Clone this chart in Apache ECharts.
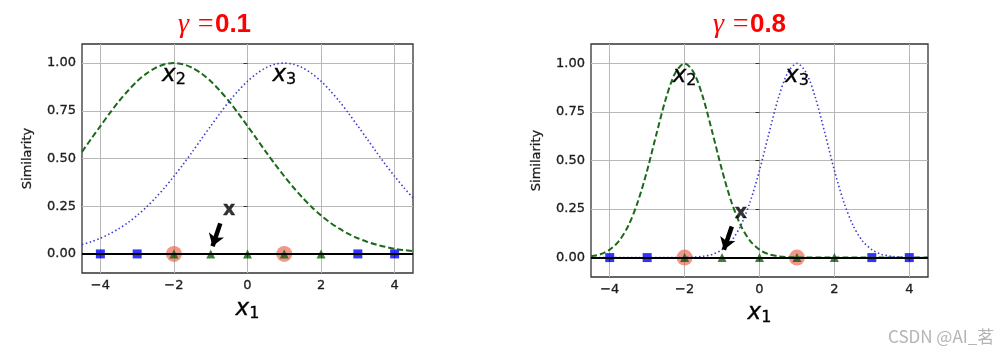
<!DOCTYPE html>
<html>
<head>
<meta charset="utf-8">
<script src="https://cdn.jsdelivr.net/npm/echarts@6/dist/echarts.min.js"></script>
<style>
html, body { margin: 0; padding: 0; background: #fff; }
#container { width: 1006px; height: 357px; }
</style>
</head>
<body>
<div id="container"></div>
<script>
// sample positions along x1
var xs = [-4.5, -4.25, -4, -3.75, -3.5, -3.25, -3, -2.75, -2.5, -2.25, -2, -1.75, -1.5, -1.25, -1, -0.75, -0.5, -0.25, 0,
          0.25, 0.5, 0.75, 1, 1.25, 1.5, 1.75, 2, 2.25, 2.5, 2.75, 3, 3.25, 3.5, 3.75, 4, 4.25, 4.5];
// gamma = 0.1
var g01_x2 = [0.535, 0.603, 0.670, 0.736, 0.799, 0.855, 0.905, 0.945, 0.975, 0.994, 1.000, 0.994, 0.975, 0.945, 0.905, 0.855, 0.799, 0.736, 0.670,
              0.603, 0.535, 0.469, 0.407, 0.348, 0.294, 0.245, 0.202, 0.164, 0.132, 0.105, 0.082, 0.064, 0.049, 0.037, 0.027, 0.020, 0.015];
var g01_x3 = [0.049, 0.064, 0.082, 0.105, 0.132, 0.164, 0.202, 0.245, 0.294, 0.348, 0.407, 0.469, 0.535, 0.603, 0.670, 0.736, 0.799, 0.855, 0.905,
              0.945, 0.975, 0.994, 1.000, 0.994, 0.975, 0.945, 0.905, 0.855, 0.799, 0.736, 0.670, 0.603, 0.535, 0.469, 0.407, 0.348, 0.294];
// gamma = 0.8
var g08_x2 = [0.007, 0.017, 0.041, 0.086, 0.165, 0.287, 0.449, 0.638, 0.819, 0.951, 1.000, 0.951, 0.819, 0.638, 0.449, 0.287, 0.165, 0.086, 0.041,
              0.017, 0.007, 0.002, 0.001, 0, 0, 0, 0, 0, 0, 0, 0, 0, 0, 0, 0, 0, 0];
var g08_x3 = [0, 0, 0, 0, 0, 0, 0, 0, 0, 0, 0.001, 0.002, 0.007, 0.017, 0.041, 0.086, 0.165, 0.287, 0.449,
              0.638, 0.819, 0.951, 1.000, 0.951, 0.819, 0.638, 0.449, 0.287, 0.165, 0.086, 0.041, 0.017, 0.007, 0.002, 0.001, 0, 0];

var blueSquares = [-4, -3, 3, 4];
var greenTriangles = [-2, -1, 0, 1, 2];
var redCircles = [-2, 1];
var peakLabels = [[-2, 0.9, '2'], [1, 0.9, '3']];
var arrowText = [-0.5, 0.2];
var arrowFrom = [-0.74, 0.16];
var arrowTo = [-0.95, 0.04];
var xTicks = [-4, -2, 0, 2, 4];
var yTicks = [0, 0.25, 0.5, 0.75, 1];
var gammas = ['0.1', '0.8'];

var txt = '#1c1c1c';
var mathRich = {
    v: { fontFamily: 'DejaVu Sans', fontStyle: 'italic', fontSize: 23, color: '#000', lineHeight: 26, verticalAlign: 'middle',
         textBorderColor: '#000', textBorderWidth: 0.35, opacity: 1 },
    s: { fontFamily: 'DejaVu Sans', fontSize: 16, color: '#000', lineHeight: 14, verticalAlign: 'bottom',
         textBorderColor: '#000', textBorderWidth: 0.3, opacity: 1 }
};

function pairs(ys) {
    var out = [];
    for (var i = 0; i < xs.length; i++) {
        out.push([xs[i], ys[i]]);
    }
    return out;
}
function onAxis(list) {
    return list.map(function (x) { return [x, 0]; });
}

function panelSeries(i, y2, y3) {
    return [{
        type: 'scatter', xAxisIndex: i, yAxisIndex: i,
        data: onAxis(redCircles),
        symbol: 'circle', symbolSize: 16,
        itemStyle: { color: 'rgba(232,70,45,0.7)' },
        markLine: {
            silent: true, symbol: 'none', label: { show: false },
            lineStyle: { color: '#000', width: 2, type: 'solid' },
            data: [{ yAxis: 0 }]
        }
    }, {
        type: 'scatter', xAxisIndex: i, yAxisIndex: i,
        data: onAxis(blueSquares),
        symbol: 'rect', symbolSize: 9,
        itemStyle: { color: '#0000ff' }
    }, {
        type: 'scatter', xAxisIndex: i, yAxisIndex: i,
        data: onAxis(greenTriangles),
        symbol: 'triangle', symbolSize: 9,
        itemStyle: { color: '#0e5e0e' }
    }, {
        type: 'line', xAxisIndex: i, yAxisIndex: i,
        data: pairs(y2), showSymbol: false, smooth: 0.3,
        lineStyle: { color: '#1b6a1b', width: 2, type: [6, 3] }
    }, {
        type: 'line', xAxisIndex: i, yAxisIndex: i,
        data: pairs(y3), showSymbol: false, smooth: 0.3,
        lineStyle: { color: '#3c3cd0', width: 1.6, type: [1.5, 2.5] }
    }, {
        type: 'scatter', xAxisIndex: i, yAxisIndex: i,
        data: peakLabels, symbolSize: 0, z: 5,
        label: {
            show: true, position: 'top', distance: 0, offset: [0, 6],
            color: '#000',
            formatter: function (p) { return '{v|x}{s|' + p.value[2] + '}'; },
            rich: mathRich
        }
    }, {
        type: 'scatter', xAxisIndex: i, yAxisIndex: i,
        data: [arrowText], symbolSize: 0, z: 5,
        label: {
            show: true, position: 'top', distance: 0, offset: [0, 4],
            formatter: 'x',
            fontFamily: 'DejaVu Sans', fontWeight: 'bold', fontSize: 19, color: '#000',
            textBorderColor: '#000', textBorderWidth: 0.4
        },
        markLine: {
            silent: true, symbol: ['none', 'arrow'], symbolSize: [12, 12],
            label: { show: false },
            lineStyle: { color: '#000', width: 4.5, type: 'solid' },
            data: [[{ coord: arrowFrom }, { coord: arrowTo }]]
        }
    }];
}

function xAxisDef(i) {
    return {
        type: 'value', gridIndex: i, min: -4.5, max: 4.5,
        name: '{v|x}{s|1}', nameLocation: 'middle', nameGap: i === 0 ? 17 : 22,
        nameTextStyle: { rich: mathRich },
        axisLine: { show: false },
        axisTick: { show: true, length: 4, customValues: xTicks, lineStyle: { color: '#333' } },
        axisLabel: {
            customValues: xTicks, margin: 6,
            fontFamily: 'DejaVu Sans', fontSize: 13, color: txt,
            textBorderColor: txt, textBorderWidth: 0.3,
            formatter: function (v) { return String(v).replace('-', '\u2212'); }
        },
        splitLine: { show: true, lineStyle: { color: '#b8b8b8', width: 1 } }
    };
}
function yAxisDef(i) {
    return {
        type: 'value', gridIndex: i, min: -0.1, max: 1.1,
        name: 'Similarity', nameLocation: 'middle', nameGap: 48,
        nameTextStyle: { fontFamily: 'DejaVu Sans', fontSize: 13, color: txt, textBorderColor: txt, textBorderWidth: 0.3 },
        axisLine: { show: false },
        axisTick: { show: true, length: 4, customValues: yTicks, lineStyle: { color: '#333' } },
        axisLabel: {
            customValues: yTicks, margin: 6,
            fontFamily: 'DejaVu Sans', fontSize: 13, color: txt,
            textBorderColor: txt, textBorderWidth: 0.3,
            formatter: function (v) { return v.toFixed(2); }
        },
        splitLine: { show: true, lineStyle: { color: '#b8b8b8', width: 1 } }
    };
}

var titleRich = {
    g: { fontFamily: 'Liberation Serif', fontStyle: 'italic', fontWeight: 'normal', fontSize: 28, color: '#ff0000' },
    n: { fontFamily: 'Liberation Sans', fontWeight: 'bold', fontSize: 26, color: '#ff0000' }
};

var dom = document.getElementById("container");
var myChart = echarts.init(dom);
var option = {
    animation: false,
    backgroundColor: '#fff',
    title: [{
        left: 173, top: 6,
        text: '{g|\u03b3 =}{n|' + gammas[0] + '}',
        textStyle: { rich: titleRich }
    }, {
        left: 708, top: 6,
        text: '{g|\u03b3 =}{n|' + gammas[1] + '}',
        textStyle: { rich: titleRich }
    }],
    grid: [
        { left: 82, top: 44, width: 331, height: 229, show: true, borderColor: '#333', borderWidth: 1.3, backgroundColor: 'transparent' },
        { left: 591, top: 44, width: 337, height: 233, show: true, borderColor: '#333', borderWidth: 1.3, backgroundColor: 'transparent' }
    ],
    xAxis: [xAxisDef(0), xAxisDef(1)],
    yAxis: [yAxisDef(0), yAxisDef(1)],
    graphic: [{
        type: 'text', left: 888, top: 328,
        style: { text: 'CSDN @AI_\u8317', fontFamily: 'Noto Sans CJK SC', fontSize: 17, fill: '#b4b4b4' }
    }],
    series: panelSeries(0, g01_x2, g01_x3).concat(panelSeries(1, g08_x2, g08_x3))
};
if (option && typeof option === "object") {
    myChart.setOption(option, true);
}
</script>
</body>
</html>
